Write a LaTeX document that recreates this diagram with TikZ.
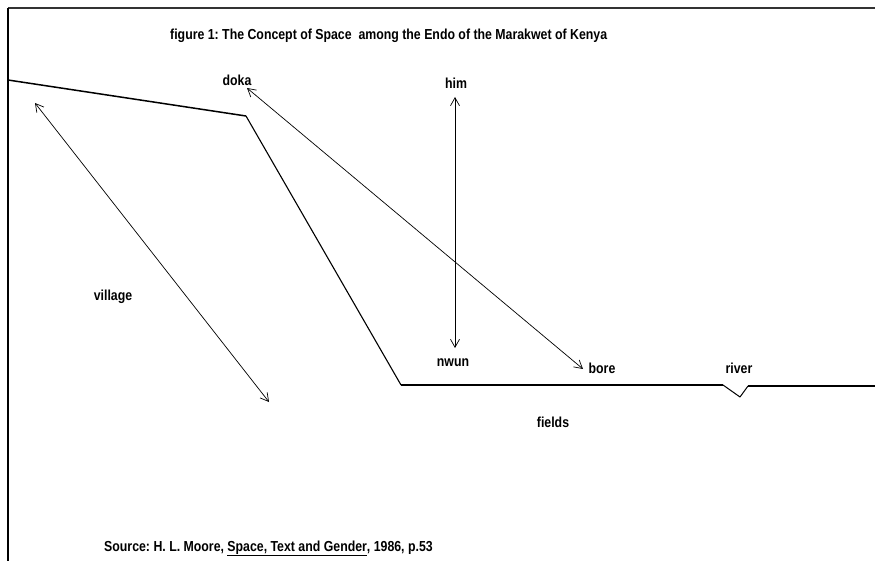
\documentclass[tikz,border=0pt]{standalone}
\usepackage{fontspec}
\setmainfont{Liberation Sans}[FakeStretch=0.85]
\usetikzlibrary{arrows.meta}
\frenchspacing
\begin{document}
\begin{tikzpicture}[x=1pt,y=-1pt,
  lbl/.style={inner sep=0pt,font=\fontsize{14.5}{16}\selectfont\bfseries},
  ground/.style={line width=1.1pt,line join=round},
  dbl/.style={line width=0.7pt,{Straight Barb[length=8pt,width=9pt,line width=0.7pt]}-{Straight Barb[length=8pt,width=9pt,line width=0.7pt]}}]
\useasboundingbox (0,0) rectangle (875,561);
% frame
\draw[line width=1.8pt,black!80] (8,8) -- (875,8);
\draw[line width=1.5pt] (8,8) -- (8,561);
% title
\node[lbl,anchor=base west] (title) at (170,40) {figure 1: The Concept of Space\ \ among the Endo of the Marakwet of Kenya};
% terrain
\coordinate (t0) at (8,80);
\coordinate (t1) at (246,116);
\coordinate (t2) at (401,385);
\coordinate (t3) at (723,385);
\coordinate (t4) at (740,397);
\coordinate (t5) at (748,386);
\coordinate (t6) at (875,386);
\draw[ground,line width=1.5pt] (t0) -- (t1);
\draw[ground] (t1) -- (t2);
\draw[ground,line width=2.6pt,line cap=butt] (t2) -- (t3);
\draw[ground,line width=1pt] (t3) -- (t4) -- (t5);
\draw[ground,line width=1.5pt] (t5) -- (t6);
% labels
\node[lbl] (doka) at (237,80) {doka};
\node[lbl] (him) at (456,83) {him};
\node[lbl] (village) at (113,297) {village};
\node[lbl] (nwun) at (453,363) {nwun};
\node[lbl] (bore) at (602,368) {bore};
\node[lbl] (river) at (739,368) {river};
\node[lbl] (fields) at (553,422) {fields};
\node[lbl,anchor=base west] (source) at (104,551) {Source: H. L. Moore, \underline{Space, Text and Gender}, 1986, p.53};
% arrows
\coordinate (v1) at (35,103);
\coordinate (v2) at (269,402);
\coordinate (d1) at (247,88);
\coordinate (b1) at (583,369);
\coordinate (h1) at (455,97);
\coordinate (n1) at (455,348);
\draw[dbl] (v1) -- (v2);
\draw[dbl] (d1) -- (b1);
\draw[dbl] (h1) -- (n1);
\end{tikzpicture}
\end{document}
